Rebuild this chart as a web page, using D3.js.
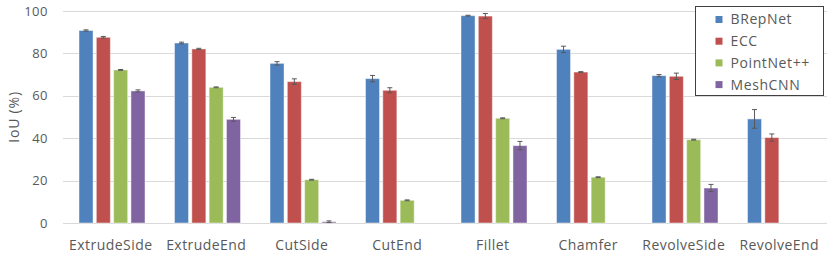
<!DOCTYPE html>
<html>
<head>
<script src="https://d3js.org/d3.v7.min.js"></script>
<style>
  body { margin: 0; background: #fff; }
  text { font-family: "Open Sans", sans-serif; fill: #595959; }
</style>
</head>
<body>
<svg id="chart" width="830" height="256"></svg>
<script>
var categories = ["ExtrudeSide", "ExtrudeEnd", "CutSide", "CutEnd", "Fillet", "Chamfer", "RevolveSide", "RevolveEnd"];
var seriesNames = ["BRepNet", "ECC", "PointNet++", "MeshCNN"];
var colors = ["#4F81BD", "#C0504D", "#9BBB59", "#8064A2"];
var yTicks = [0, 20, 40, 60, 80, 100];

// IoU means per series, one entry per category
var brepnet   = [90.8, 84.9, 75.3, 68.1, 97.8, 81.9, 69.5, 49.1];
var ecc       = [87.6, 82.1, 66.7, 62.6, 97.6, 71.2, 69.2, 40.3];
var pointnet  = [72.2, 64.0, 20.4, 10.7, 49.4, 21.6, 39.3, 0];
var meshcnn   = [62.3, 48.9, 0.6, 0, 36.5, 0, 16.5, 0];

// error bar half widths
var brepnetErr  = [0.3, 0.4, 0.8, 1.5, 0.2, 1.5, 0.5, 4.4];
var eccErr      = [0.4, 0.3, 1.3, 1.2, 1.2, 0.2, 1.5, 1.7];
var pointnetErr = [0.2, 0.2, 0.2, 0.2, 0.2, 0.2, 0.2, 0];
var meshcnnErr  = [0.5, 0.9, 0.4, 0, 2.0, 0, 1.7, 0];

var values = [brepnet, ecc, pointnet, meshcnn];
var errors = [brepnetErr, eccErr, pointnetErr, meshcnnErr];

var rows = [];
categories.forEach(function(c, i) {
  seriesNames.forEach(function(s, j) {
    rows.push({cat: c, series: s, idx: j, v: values[j][i], e: errors[j][i]});
  });
});

var svg = d3.select("#chart");
var plotLeft = 63, plotRight = 827, plotTop = 11, plotBottom = 223;

var x0 = d3.scaleBand().domain(categories).range([plotLeft, plotRight]);
var x1 = d3.scaleBand().domain(seriesNames).range([16, 82]).paddingInner(0.19);
var y = d3.scaleLinear().domain([0, 100]).range([plotBottom, plotTop]);

// gridlines
svg.append("g").selectAll("line").data(yTicks).enter().append("line")
  .attr("x1", plotLeft).attr("x2", plotRight)
  .attr("y1", function(d) { return Math.round(y(d)) + 0.5; })
  .attr("y2", function(d) { return Math.round(y(d)) + 0.5; })
  .attr("stroke", "#d9d9d9").attr("stroke-width", 1);

// y axis labels
var yAxis = d3.axisLeft(y).tickValues(yTicks).tickSize(0).tickPadding(0);
var ya = svg.append("g").attr("transform", "translate(48,0)").call(yAxis);
ya.select(".domain").remove();
ya.selectAll("text").style("font-size", "13px").attr("fill", "#595959")
  .style("letter-spacing", "0.5px")
  .style("font-family", "'Open Sans', sans-serif");

svg.append("text")
  .attr("transform", "translate(14," + (plotTop + plotBottom) / 2 + ") rotate(-90)")
  .attr("text-anchor", "middle")
  .attr("dy", "0.35em")
  .style("font-size", "14px")
  .style("letter-spacing", "0.8px")
  .text("IoU (%)");

// bars
svg.append("g").selectAll("rect").data(rows).enter().append("rect")
  .attr("x", function(d) { return x0(d.cat) + x1(d.series); })
  .attr("width", x1.bandwidth())
  .attr("y", function(d) { return y(d.v); })
  .attr("height", function(d) { return plotBottom - y(d.v); })
  .attr("fill", function(d) { return colors[d.idx]; })
  .attr("stroke", "#ffffff").attr("stroke-opacity", 0.45).attr("stroke-width", 1);

// error bars
var eb = svg.append("g").selectAll("g").data(rows.filter(function(d) { return d.v > 0; })).enter().append("g")
  .attr("transform", function(d) { return "translate(" + (x0(d.cat) + x1(d.series) + x1.bandwidth() / 2) + ",0)"; });
eb.append("line")
  .attr("y1", function(d) { return y(d.v + d.e); })
  .attr("y2", function(d) { return y(d.v - d.e); })
  .attr("stroke", "#595959");
eb.append("line").attr("x1", -2.5).attr("x2", 2.5)
  .attr("y1", function(d) { return y(d.v + d.e); })
  .attr("y2", function(d) { return y(d.v + d.e); })
  .attr("stroke", "#595959");
eb.append("line").attr("x1", -2.5).attr("x2", 2.5)
  .attr("y1", function(d) { return y(d.v - d.e); })
  .attr("y2", function(d) { return y(d.v - d.e); })
  .attr("stroke", "#595959");

// category labels
var xAxis = d3.axisBottom(x0).tickSize(0).tickPadding(0);
var xa = svg.append("g").attr("transform", "translate(0," + (plotBottom + 17) + ")").call(xAxis);
xa.select(".domain").remove();
xa.selectAll("text").style("font-size", "14px").attr("fill", "#595959")
  .style("letter-spacing", "0.45px")
  .style("font-family", "'Open Sans', sans-serif");

// legend
var lg = svg.append("g").attr("transform", "translate(695.5,6.5)");
lg.append("rect").attr("width", 128).attr("height", 89)
  .attr("fill", "#fff").attr("stroke", "#404040").attr("stroke-width", 1);
var items = lg.selectAll("g.item").data(seriesNames).enter().append("g")
  .attr("class", "item")
  .attr("transform", function(d, i) { return "translate(20," + (13 + i * 21.7) + ")"; });
items.append("rect").attr("x", 0).attr("y", -3.5).attr("width", 7).attr("height", 7)
  .attr("fill", function(d, i) { return colors[i]; });
items.append("text").attr("x", 15).attr("dy", "0.35em")
  .style("font-size", "14px")
  .style("letter-spacing", "0.6px")
  .text(function(d) { return d; });
</script>
</body>
</html>
